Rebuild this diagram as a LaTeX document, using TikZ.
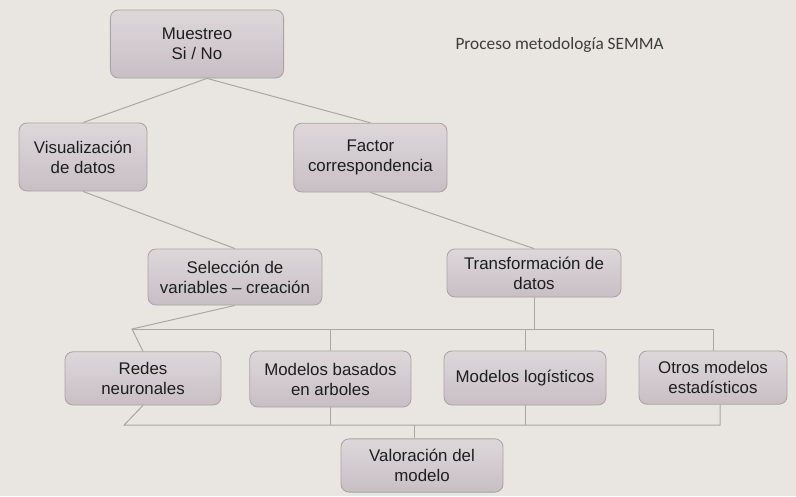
\documentclass[tikz,border=0pt]{standalone}
\usepackage{fontspec}
\setmainfont{Liberation Sans}
\newfontfamily\titlefont{Carlito}
\definecolor{paper}{HTML}{E9E6E1}
\definecolor{boxtop}{HTML}{DDD7DA}
\definecolor{boxbottom}{HTML}{C8BFC4}
\definecolor{boxline}{HTML}{ABA2A7}
\definecolor{wire}{HTML}{ABA5A3}
\definecolor{ink}{HTML}{1E1E1E}
\definecolor{titleink}{HTML}{3C3C3C}

\begin{document}
\begin{tikzpicture}[
    box/.style={draw=boxline, line width=0.6pt, rounded corners=0.2cm, top color=boxtop, bottom color=boxbottom, align=center, text=ink, inner sep=0pt, font=\fontsize{12}{14.2}\selectfont},
    link/.style={draw=wire, line width=0.7pt}
]

            % Draw the background as a plain sheet
            \fill[paper] (0,0) rectangle (19.9,12.4);
            \useasboundingbox (0,0) rectangle (19.9,12.4);

            % Title of the process
            \node[text=titleink, font=\titlefont\fontsize{12.3}{14}\selectfont] (title) at (13.99, 11.275) {Proceso metodología SEMMA};

            % First levels of the tree
            \node[box, minimum width=4.33cm, minimum height=1.7cm] (muestreo) at (4.925, 11.3) {Muestreo\\Si / No};
            \node[box, minimum width=3.2cm, minimum height=1.7cm] (visual) at (2.075, 8.475) {Visualización\\de datos};
            \node[box, minimum width=3.83cm, minimum height=1.72cm] (factor) at (9.26, 8.46) {Factor\\correspondencia};
            \node[box, minimum width=4.35cm, minimum height=1.4cm] (seleccion) at (5.875, 5.475) {Selección de\\variables -- creación};
            \node[box, minimum width=4.35cm, minimum height=1.2cm] (transf) at (13.35, 5.575) {Transformación de\\datos};

            % Row of models
            \node[box, minimum width=3.9cm, minimum height=1.33cm] (redes) at (3.575, 2.94) {Redes\\neuronales};
            \node[box, minimum width=4.03cm, minimum height=1.4cm] (arboles) at (8.26, 2.925) {Modelos basados\\en arboles};
            \node[box, minimum width=4.05cm, minimum height=1.35cm] (logist) at (13.125, 2.95) {Modelos logísticos};
            \node[box, minimum width=3.7cm, minimum height=1.33cm] (otros) at (17.825, 2.96) {Otros modelos\\estadísticos};

            % Final evaluation
            \node[box, minimum width=4.05cm, minimum height=1.33cm] (valor) at (10.55, 0.7625) {Valoración del\\modelo};

            % Bus end points
            \coordinate (busL) at (3.3, 4.175);
            \coordinate (busR) at (17.825, 4.175);
            \coordinate (lowL) at (3.1, 1.77);
            \coordinate (lowR) at (18.0, 1.77);

            % Draw the upper connectors
            \draw[link] (visual.north) -- ([xshift=0.25cm]muestreo.south) -- (factor.north);
            \draw[link] (visual.south) -- (seleccion.north);
            \draw[link] (factor.south) -- (transf.north);

            % Draw the bus above the models
            \draw[link] (seleccion.south) -- (busL) -- (redes.north);
            \draw[link] (busL) -- (busR) -- (otros.north);
            \draw[link] (transf.south) -- (transf.south |- busL);
            \draw[link] (arboles.north) -- (arboles.north |- busL);
            \draw[link] (logist.north) -- (logist.north |- busL);

            % Draw the bus below the models
            \draw[link] (redes.south) -- (lowL) -- (lowR) -- ([xshift=0.175cm]otros.south);
            \draw[link] (arboles.south) -- (arboles.south |- lowL);
            \draw[link] (logist.south) -- (logist.south |- lowL);
            \draw[link] ([xshift=-0.2cm]valor.north) -- ([xshift=-0.2cm]valor.north |- lowL);
        \end{tikzpicture}
\end{document}
